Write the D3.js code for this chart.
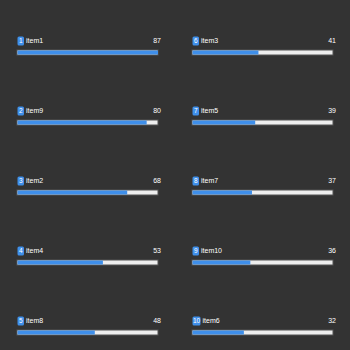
<!DOCTYPE html>
<html>
<head>
<meta charset="utf-8">
<script src="https://cdn.jsdelivr.net/npm/d3@7"></script>
<style>
  html, body { margin: 0; padding: 0; background: #333333; }
  svg { display: block; }
</style>
</head>
<body>
<svg id="chart" width="350" height="350"></svg>
<script>
// Chart data, ranked
const names = ['item1', 'item9', 'item2', 'item4', 'item8', 'item3', 'item5', 'item7', 'item10', 'item6'];
const values = [87, 80, 68, 53, 48, 41, 39, 37, 36, 32];
const ranks = [1, 2, 3, 4, 5, 6, 7, 8, 9, 10];

const svg = d3.select('#chart');
const font = '"Liberation Sans", Arial, sans-serif';
const blue = '#3f8fea';

const rows = names.map((n, i) => ({ name: n, value: values[i], rank: ranks[i], col: Math.floor(i / 5), row: i % 5 }));

// Column and row placement
const colX = d3.scaleOrdinal().domain([0, 1]).range([17, 192]);
const rowY = d3.scalePoint().domain(d3.range(5)).range([41, 321]);
const barW = 141;
const x = d3.scaleLinear().domain([0, d3.max(values)]).range([0, barW]);

const g = svg.selectAll('g.item')
  .data(rows)
  .enter()
  .append('g')
  .attr('class', 'item')
  .attr('transform', d => `translate(${colX(d.col)},${rowY(d.row)})`);

// Track
g.append('rect')
  .attr('x', 0)
  .attr('y', 9)
  .attr('width', barW)
  .attr('height', 5)
  .attr('fill', '#eeeeee')
  .attr('stroke', '#555555')
  .attr('stroke-width', 1);

// Fill
g.append('rect')
  .attr('x', 0.5)
  .attr('y', 9.5)
  .attr('width', d => x(d.value) - 0.5)
  .attr('height', 4)
  .attr('fill', blue);

// Rank badge + name
g.each(function(d) {
  const sel = d3.select(this);
  const w = d.rank >= 10 ? 8 : 6.5;
  sel.append('rect')
    .attr('x', 0.5)
    .attr('y', -4.5)
    .attr('width', w)
    .attr('height', 9)
    .attr('rx', 1.5)
    .attr('fill', blue);
  sel.append('text')
    .attr('x', 0.5 + w / 2)
    .attr('y', 0)
    .attr('dy', '0.35em')
    .attr('text-anchor', 'middle')
    .attr('font-family', font)
    .attr('font-size', 6.5)
    .attr('fill', '#ffffff')
    .text(d.rank);
  sel.append('text')
    .attr('x', w + 2.5)
    .attr('y', 0)
    .attr('dy', '0.35em')
    .attr('font-family', font)
    .attr('font-size', 7)
    .attr('fill', '#ffffff')
    .text(d.name);
});

// Value label
g.append('text')
  .attr('x', barW + 3)
  .attr('y', 0)
  .attr('dy', '0.35em')
  .attr('text-anchor', 'end')
  .attr('font-family', font)
  .attr('font-size', 7)
  .attr('fill', '#ffffff')
  .text(d => d.value);
</script>
</body>
</html>
